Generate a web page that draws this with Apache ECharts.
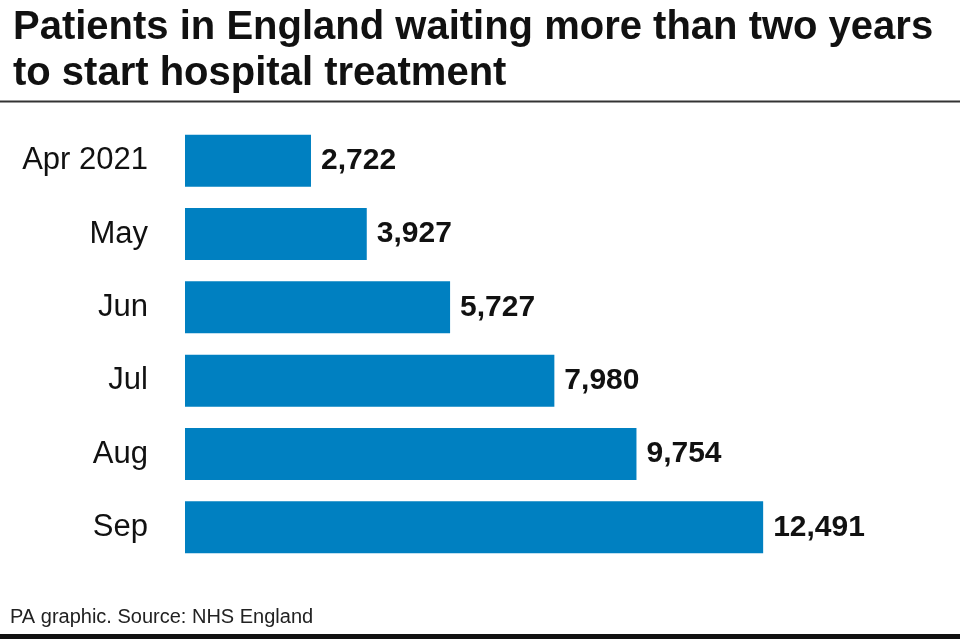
<!DOCTYPE html>
<html>
<head>
<meta charset="utf-8">
<script src="https://cdn.jsdelivr.net/npm/echarts@6/dist/echarts.min.js"></script>
<style>
  html, body { margin: 0; padding: 0; background: #fff; }
  #chart { width: 960px; height: 639px; }
</style>
</head>
<body>
<div id="chart"></div>
<script>
var fontFamily = 'Liberation Sans, Arial, Helvetica, sans-serif';

// data
var months = ['Apr 2021', 'May', 'Jun', 'Jul', 'Aug', 'Sep'];
var patients = [2722, 3927, 5727, 7980, 9754, 12491];

var barColor = '#0080c1';
var chart = echarts.init(document.getElementById('chart'));

var option = {
    backgroundColor: '#fff',
    animation: false,
    title: {
        text: 'Patients in England waiting more than two years\nto start hospital treatment',
        left: 8,
        top: 0,
        textStyle: {
            color: '#111',
            fontFamily: fontFamily,
            fontSize: 40,
            fontWeight: 'bold',
            lineHeight: 46
        }
    },
    graphic: [
        { type: 'rect', shape: { x: 0, y: 100.5, width: 960, height: 2 }, style: { fill: '#333' } },
        { type: 'rect', shape: { x: 0, y: 634, width: 960, height: 5 }, style: { fill: '#111' } },
        {
            type: 'text', left: 10, top: 607,
            style: { text: 'PA graphic. Source: NHS England', fill: '#222', font: '20px ' + fontFamily }
        }
    ],
    grid: { left: 185, top: 124, width: 648, height: 440 },
    xAxis: {
        type: 'value',
        min: 0,
        max: 14000,
        show: false
    },
    yAxis: {
        type: 'category',
        inverse: true,
        data: months,
        axisLine: { show: false },
        axisTick: { show: false },
        axisLabel: {
            margin: 37,
            color: '#111',
            fontFamily: fontFamily,
            fontSize: 31
        }
    },
    series: [{
        type: 'bar',
        data: patients,
        barWidth: 52,
        itemStyle: { color: barColor },
        label: {
            show: true,
            position: 'right',
            distance: 10,
            color: '#111',
            fontFamily: fontFamily,
            fontSize: 30,
            fontWeight: 'bold',
            formatter: function (p) { return p.value.toLocaleString('en-GB'); }
        }
    }]
};

chart.setOption(option);
</script>
</body>
</html>
